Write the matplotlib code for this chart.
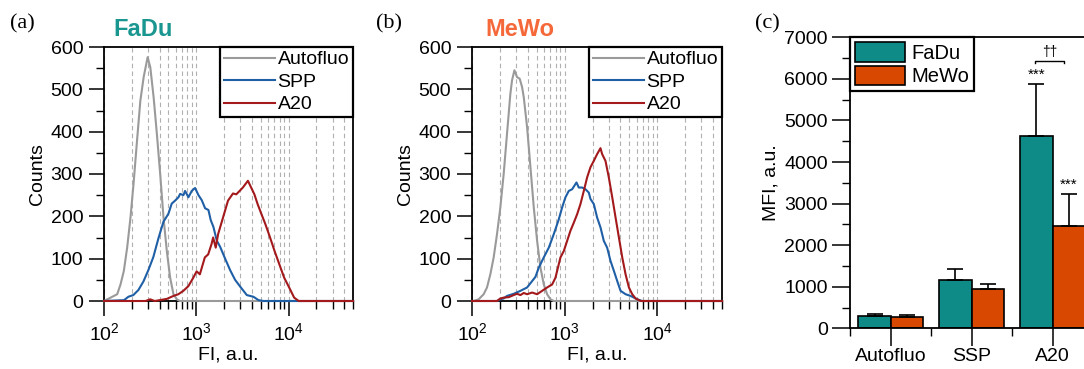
import numpy as np
import matplotlib.pyplot as plt
from matplotlib.ticker import MultipleLocator, LogLocator, NullFormatter

plt.rcParams['font.family'] = ['Liberation Sans', 'DejaVu Sans']
plt.rcParams['mathtext.fontset'] = 'custom'
plt.rcParams['mathtext.rm'] = 'Liberation Sans'

# ---- histogram data (log10 of FI, counts) ----
# (a) FaDu
fadu_auto_log = [2.0, 2.072, 2.143, 2.179, 2.215, 2.251, 2.287, 2.323, 2.358, 2.394, 2.43,
                 2.473, 2.502, 2.538, 2.573, 2.609, 2.645, 2.681, 2.717, 2.753, 2.789, 2.824, 4.7]
fadu_auto_cnt = [0, 8, 16, 39, 71, 126, 197, 284, 379, 473, 529,
                 576, 552, 481, 395, 300, 197, 118, 55, 16, 4, 0, 0]

fadu_spp_log = [2.0, 2.217, 2.264, 2.318, 2.373, 2.427, 2.481, 2.535, 2.590, 2.644, 2.698, 2.734,
                2.770, 2.807, 2.825, 2.861, 2.879, 2.915, 2.951, 2.987, 3.024, 3.060, 3.096,
                3.132, 3.157, 3.186, 3.222, 3.259, 3.313, 3.367, 3.421, 3.476, 3.548, 3.620,
                3.675, 3.729, 4.7]
fadu_spp_cnt = [0, 2, 10, 14, 26, 46, 73, 104, 148, 187, 206, 230,
                237, 245, 253, 250, 260, 245, 260, 267, 250, 238, 219,
                215, 191, 175, 143, 128, 100, 73, 50, 34, 14, 10,
                2, 0, 0]

fadu_a20_log = [2.0, 2.45, 2.5, 2.55, 2.681, 2.753, 2.806, 2.860, 2.914, 2.968, 3.004, 3.039,
                3.093, 3.129, 3.165, 3.183, 3.211, 3.237, 3.290, 3.344, 3.398, 3.434, 3.470,
                3.505, 3.560, 3.595, 3.630, 3.665, 3.700, 3.750, 3.800, 3.849, 3.900, 3.953,
                4.007, 4.061, 4.110, 4.7]
fadu_a20_cnt = [0, 0, 4, 0, 5, 12, 16, 24, 35, 55, 70, 63,
                103, 110, 134, 150, 126, 158, 197, 237, 254, 252, 260,
                268, 284, 268, 252, 229, 209, 181, 150, 118, 87, 55,
                32, 8, 0, 0]

# (b) MeWo
mewo_auto_log = [2.0, 2.018, 2.072, 2.126, 2.162, 2.198, 2.234, 2.270, 2.306, 2.342, 2.378, 2.414,
                 2.432, 2.458, 2.486, 2.515, 2.541, 2.559, 2.595, 2.613, 2.631, 2.667, 2.703,
                 2.739, 2.775, 2.811, 2.847, 2.883, 4.7]
mewo_auto_cnt = [0, 0, 4, 16, 32, 63, 103, 158, 221, 300, 395, 489,
                 521, 545, 529, 525, 505, 481, 410, 363, 316, 221, 142,
                 79, 39, 16, 4, 0, 0]

mewo_spp_log = [2.0, 2.270, 2.306, 2.342, 2.378, 2.450, 2.523, 2.595, 2.649, 2.685, 2.721, 2.775,
                2.829, 2.883, 2.937, 2.973, 3.009, 3.045, 3.081, 3.128, 3.153, 3.189, 3.225,
                3.261, 3.279, 3.315, 3.351, 3.387, 3.423, 3.459, 3.495, 3.532, 3.568, 3.604,
                3.658, 3.712, 3.784, 3.838, 4.7]
mewo_spp_cnt = [0, 0, 4, 6, 12, 17, 24, 32, 47, 57, 79, 103,
                126, 158, 193, 221, 245, 260, 264, 280, 268, 268, 264,
                256, 241, 229, 197, 174, 142, 126, 95, 71, 47, 24,
                16, 12, 4, 0, 0]

mewo_a20_log = [2.0, 2.270, 2.306, 2.342, 2.396, 2.450, 2.486, 2.523, 2.559, 2.595, 2.649, 2.703,
                2.757, 2.811, 2.865, 2.901, 2.919, 2.955, 2.991, 3.027, 3.063, 3.099, 3.135,
                3.171, 3.207, 3.243, 3.279, 3.315, 3.351, 3.387, 3.405, 3.441, 3.477, 3.514,
                3.550, 3.586, 3.622, 3.658, 3.694, 3.730, 3.766, 3.820, 4.7]
mewo_a20_cnt = [0, 0, 6, 8, 9, 14, 17, 14, 19, 16, 20, 16,
                24, 32, 39, 55, 71, 103, 118, 142, 166, 185, 205,
                229, 260, 292, 316, 331, 347, 361, 347, 331, 292, 245,
                197, 150, 103, 63, 32, 16, 6, 0, 0]

# ---- bar chart data ----
categories = ['Autofluo', 'SSP', 'A20']
fadu_mfi = [305, 1155, 4635]
fadu_err = [40, 280, 1243]
mewo_mfi = [281, 946, 2454]
mewo_err = [32, 113, 778]

hist_labels = ['Autofluo', 'SPP', 'A20']
hist_colors = ['#9a9a9a', '#1f5fa6', '#a3191c']
teal = '#0e8a87'
orange = '#d94800'

fig = plt.figure(figsize=(10.84, 3.69), dpi=100)


def hist_panel(ax, curves):
    for (lg, cnt), lab, col in zip(curves, hist_labels, hist_colors):
        ax.plot(10 ** np.asarray(lg), cnt, color=col, lw=1.5, label=lab,
                clip_on=False, zorder=3)
    ax.set_xscale('log')
    ax.set_xlim(100, 50000)
    ax.set_ylim(0, 600)
    ax.xaxis.set_major_locator(LogLocator(base=10, numticks=10))
    ax.xaxis.set_minor_locator(LogLocator(base=10, subs=np.arange(2, 10), numticks=20))
    ax.xaxis.set_minor_formatter(NullFormatter())
    ax.yaxis.set_major_locator(MultipleLocator(100))
    ax.yaxis.set_minor_locator(MultipleLocator(50))
    ax.grid(True, which='both', axis='x', linestyle=(0, (4, 3)), color='#b0b0b0', lw=0.8)
    ax.tick_params(which='major', direction='out', length=11, width=1.1, labelsize=14, pad=4)
    ax.tick_params(which='minor', direction='out', length=6, width=1.0)
    for s in ax.spines.values():
        s.set_linewidth(1.3)
    ax.set_ylabel('Counts', fontsize=14, labelpad=3)
    ax.set_xlabel('FI, a.u.', fontsize=14, labelpad=2)
    leg = ax.legend(loc='upper right', borderaxespad=0, fancybox=False, framealpha=1,
                    edgecolor='black', fontsize=14, handlelength=2.6, handletextpad=0.15,
                    borderpad=0.2, labelspacing=0.25)
    leg.get_frame().set_linewidth(1.6)


ax1 = fig.add_axes([104 / 1084, 68 / 369, 249 / 1084, 254 / 369])
hist_panel(ax1, [(fadu_auto_log, fadu_auto_cnt), (fadu_spp_log, fadu_spp_cnt),
                 (fadu_a20_log, fadu_a20_cnt)])

ax2 = fig.add_axes([472 / 1084, 68 / 369, 250 / 1084, 254 / 369])
hist_panel(ax2, [(mewo_auto_log, mewo_auto_cnt), (mewo_spp_log, mewo_spp_cnt),
                 (mewo_a20_log, mewo_a20_cnt)])

# ---- bar panel ----
ax3 = fig.add_axes([850 / 1084, 40.7 / 369, 234 / 1084, 291 / 369])
x = np.arange(len(categories))
w = 0.4
ax3.bar(x - w / 2, fadu_mfi, w, color=teal, edgecolor='black', lw=1.2, label='FaDu',
        yerr=[np.zeros(3), fadu_err], capsize=6, error_kw=dict(elinewidth=1.2, capthick=1.2))
ax3.bar(x + w / 2, mewo_mfi, w, color=orange, edgecolor='black', lw=1.2, label='MeWo',
        yerr=[np.zeros(3), mewo_err], capsize=6, error_kw=dict(elinewidth=1.2, capthick=1.2))
ax3.set_xlim(-0.503, 2.389)
ax3.set_ylim(0, 7000)
ax3.set_xticks(x)
ax3.set_xticklabels(categories)
ax3.set_xticks([-0.5, 0.5, 1.5], minor=True)
ax3.yaxis.set_major_locator(MultipleLocator(1000))
ax3.yaxis.set_minor_locator(MultipleLocator(500))
ax3.tick_params(which='major', direction='out', length=13, width=1.1, labelsize=14, pad=3)
ax3.tick_params(which='minor', direction='out', length=6, width=1.0)
ax3.tick_params(axis='x', which='major', pad=1)
ax3.spines['right'].set_visible(False)
for s in ax3.spines.values():
    s.set_linewidth(1.3)
ax3.set_ylabel('MFI, a.u.', fontsize=14, labelpad=3)
leg3 = ax3.legend(loc='upper left', bbox_to_anchor=(0.0, 1.0), borderaxespad=0,
                  fancybox=False, framealpha=1, edgecolor='black', fontsize=14.5,
                  handlelength=2.5, handleheight=1.1, handletextpad=0.3,
                  borderpad=0.25, labelspacing=0.15)
leg3.get_frame().set_linewidth(1.6)

# significance marks
ax3.text(2 - w / 2, fadu_mfi[2] + fadu_err[2] + 40, '***', ha='center', va='bottom', fontsize=11)
ax3.text(2 + w / 2, mewo_mfi[2] + mewo_err[2] + 40, '***', ha='center', va='bottom', fontsize=11)
ax3.plot([1.784, 1.784, 2.142, 2.142], [6375, 6440, 6440, 6375], color='black', lw=1.0)
ax3.text(1.963, 6470, '††', ha='center', va='bottom', fontsize=10)

# panel labels and titles
for px, lab in [(10, '(a)'), (376, '(b)'), (755, '(c)')]:
    fig.text(px / 1084, 1 - 24 / 369, lab, fontsize=16, family='Liberation Serif', va='center')
fig.text(143 / 1084, 1 - 29 / 369, 'FaDu', fontsize=17, weight='bold', color='#1a9690',
         ha='center', va='center')
fig.text(520 / 1084, 1 - 29 / 369, 'MeWo', fontsize=17, weight='bold', color='#f4683a',
         ha='center', va='center')

fig.savefig('out.png', dpi=100)
